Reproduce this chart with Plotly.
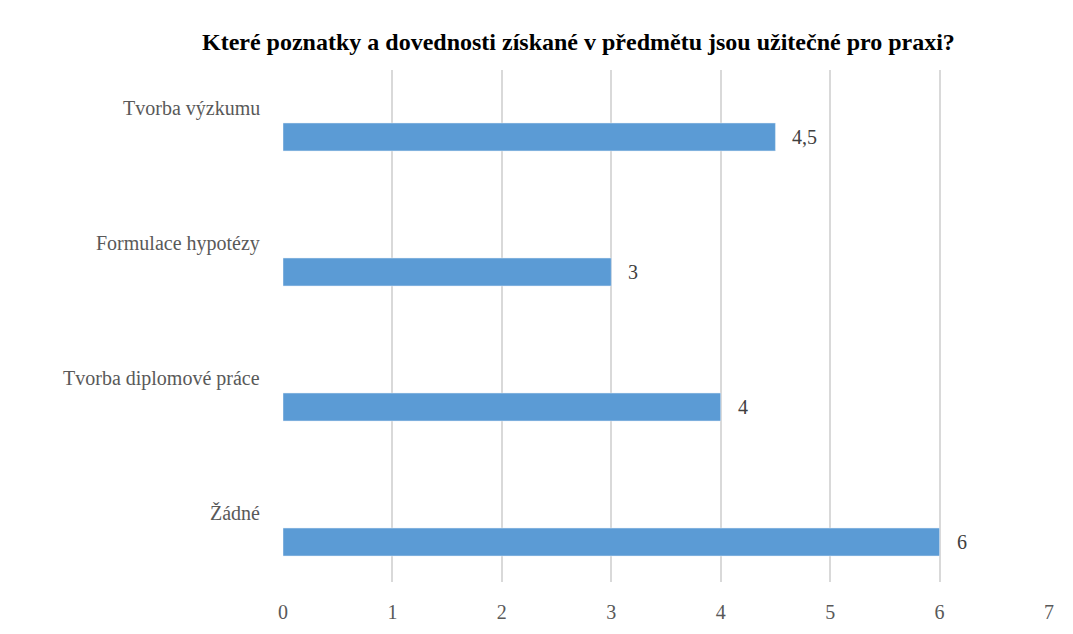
import plotly.graph_objects as go

# Data: categories listed bottom-to-top as drawn
categories = ["Žádné", "Tvorba diplomové práce", "Formulace hypotézy", "Tvorba výzkumu"]
values = [6, 4, 3, 4.5]
x_ticks = [0, 1, 2, 3, 4, 5, 6, 7]

title_text = "Které poznatky a dovednosti získané v předmětu jsou užitečné pro praxi?"

W, H = 1073, 634
ML, MR, MT, MB = 283, 24, 70, 52
PW, PH = W - ML - MR, H - MT - MB

BAR_COLOR = "#5B9BD5"
GRID_COLOR = "#D9D9D9"
TEXT_GRAY = "#595959"
FONT = "Liberation Serif"


def px_x(px):
    return (px - ML) / PW


def px_y(py):
    return (H - MB - py) / PH


fig = go.Figure()
fig.add_trace(go.Bar(
    x=values,
    y=list(range(len(categories))),
    orientation="h",
    width=0.207,
    marker=dict(color=BAR_COLOR),
))

annotations = []
# category labels sit above-left of each bar
for i, name in enumerate(categories):
    annotations.append(dict(
        x=px_x(262), xref="paper", y=px_y(108 + 135 * (3 - i)), yref="paper",
        text=name, showarrow=False, xanchor="right", yanchor="middle",
        font=dict(family=FONT, size=20, color=TEXT_GRAY),
    ))
# value labels to the right of each bar
for i, v in enumerate(values):
    annotations.append(dict(
        x=v, xref="x", y=i, yref="y",
        text=f"{v:g}".replace(".", ","), showarrow=False,
        xanchor="left", yanchor="middle", xshift=15,
        font=dict(family=FONT, size=20, color="#404040"),
    ))
annotations.append(dict(
    x=px_x(578), xref="paper", y=px_y(42), yref="paper",
    text=f"<b>{title_text}</b>", showarrow=False,
    xanchor="center", yanchor="middle",
    font=dict(family=FONT, size=24, color="#000000"),
))

fig.update_layout(
    width=W, height=H,
    margin=dict(l=ML, r=MR, t=MT, b=MB),
    showlegend=False,
    annotations=annotations,
    xaxis=dict(
        range=[0, 7], tickvals=x_ticks,
        showgrid=True, gridcolor=GRID_COLOR, gridwidth=1.5,
        zeroline=False, showline=False,
        ticks="outside", ticklen=12, tickcolor="white",
        tickfont=dict(family=FONT, size=20, color=TEXT_GRAY),
    ),
    yaxis=dict(
        range=[-0.296, 3.496], showticklabels=False, showgrid=False,
        zeroline=False, showline=False,
    ),
    plot_bgcolor="white",
)

fig.write_html("out.html")
